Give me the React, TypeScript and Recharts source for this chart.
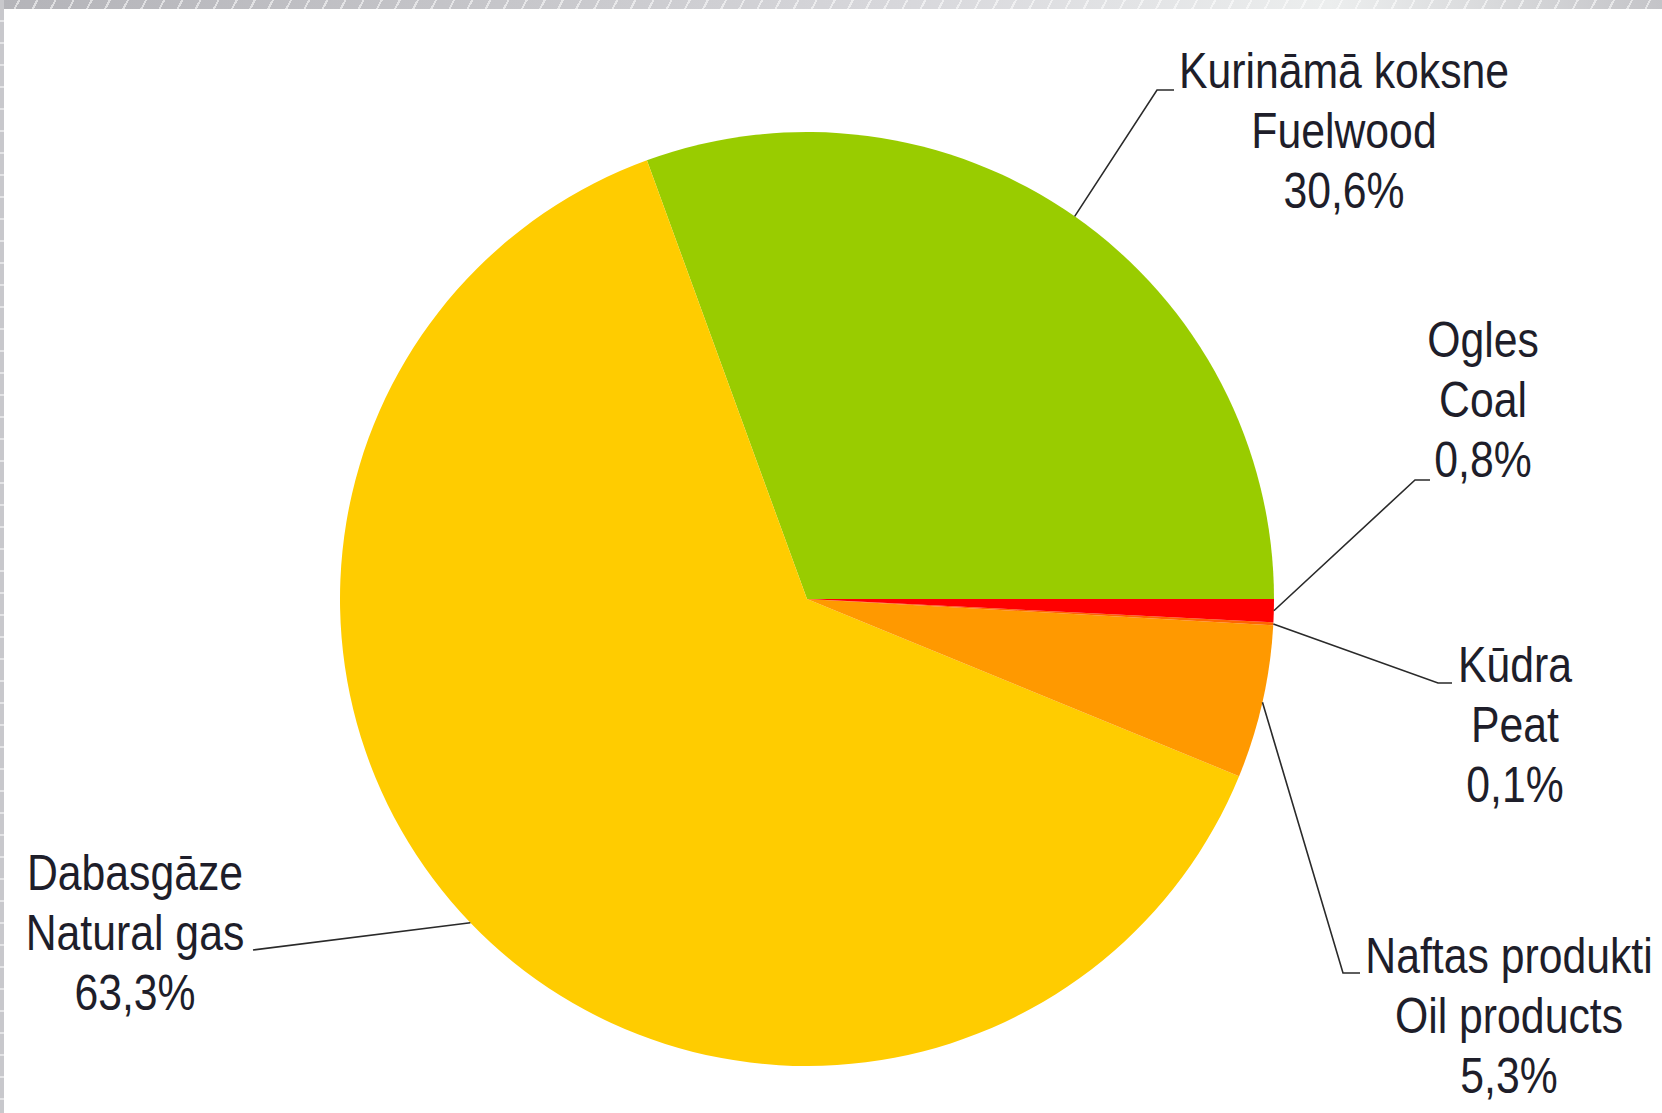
import React from 'react';
import { PieChart, Pie, Cell } from 'recharts';

// ---- data ----
const namesLv = ['Kurināmā koksne', 'Dabasgāze', 'Naftas produkti', 'Kūdra', 'Ogles'];
const namesEn = ['Fuelwood', 'Natural gas', 'Oil products', 'Peat', 'Coal'];
const shares = [30.6, 63.3, 5.3, 0.1, 0.8];
const sliceColors = ['#99cc00', '#ffcc00', '#ff9900', '#ff6600', '#ff0000'];

const data = shares.map((v, i) => ({ lv: namesLv[i], en: namesEn[i], value: v }));

// ---- label layout (offsets from pie centre) ----
const labelLayout = [
  { elbow: [350, -509], end: [367, -509], tx: 537, ty: -511 },
  { elbow: null, end: [-554, 351], tx: -672, ty: 291 },
  { elbow: [536, 374], end: [553, 374], tx: 702, ty: 374 },
  { elbow: [631, 84], end: [645, 84], tx: 708, ty: 83 },
  { elbow: [608, -119], end: [623, -119], tx: 676, ty: -242 },
];

const W = 1662;
const H = 1113;
const FONT = '"Liberation Sans", Arial, Helvetica, sans-serif';
const LINE_H = 60;
const RAD = Math.PI / 180;

const fmt = (v: number) => v.toFixed(1).replace('.', ',') + '%';

const renderLabel = (props: any) => {
  const { cx, cy, midAngle, outerRadius, index } = props;
  const lay = labelLayout[index];
  const d = data[index];
  const sx = cx + outerRadius * Math.cos(-midAngle * RAD);
  const sy = cy + outerRadius * Math.sin(-midAngle * RAD);
  const pts: number[][] = [[sx, sy]];
  if (lay.elbow) pts.push([cx + lay.elbow[0], cy + lay.elbow[1]]);
  pts.push([cx + lay.end[0], cy + lay.end[1]]);
  const tx = cx + lay.tx;
  const ty = cy + lay.ty;
  return (
    <g key={'lbl' + index}>
      <polyline
        points={pts.map((p) => p.join(',')).join(' ')}
        fill="none"
        stroke="#2a2a2a"
        strokeWidth={1.6}
      />
      <text
        transform={`translate(${tx},${ty}) scale(0.855,1)`}
        textAnchor="middle"
        fontFamily={FONT}
        fontSize={50}
        fill="#1e1e2a"
      >
        <tspan x={0} y={0}>{d.lv}</tspan>
        <tspan x={0} y={LINE_H}>{d.en}</tspan>
        <tspan x={0} y={LINE_H * 2}>{fmt(d.value)}</tspan>
      </text>
    </g>
  );
};

export default function App() {
  return (
    <div
      style={{
        position: 'absolute',
        left: 0,
        top: 0,
        width: W,
        height: H,
        overflow: 'hidden',
        background: '#ffffff',
      }}
    >
      {/* decorative grey frame, top band */}
      <div
        style={{
          position: 'absolute',
          left: 0,
          top: 0,
          width: W,
          height: 9,
          background:
            'repeating-linear-gradient(118deg, rgba(255,255,255,0.55) 0px, rgba(255,255,255,0.55) 2px, rgba(255,255,255,0) 2px, rgba(255,255,255,0) 16px), linear-gradient(90deg, #b4b4b9 0%, #c6c6ca 30%, #d8d8dc 55%, #eceeee 80%, #c4c4c8 100%)',
        }}
      />
      {/* left band */}
      <div
        style={{
          position: 'absolute',
          left: 0,
          top: 0,
          width: 4,
          height: H,
          background:
            'repeating-linear-gradient(180deg, #c8c8cc 0px, #c8c8cc 20px, #e4e4e6 20px, #e4e4e6 22px)',
        }}
      />
      <div style={{ position: 'absolute', left: 0, top: 0 }}>
        <PieChart width={W} height={H} margin={{ top: 0, right: 0, bottom: 0, left: 0 }}>
          <Pie
            data={data}
            dataKey="value"
            nameKey="en"
            cx={807}
            cy={599}
            outerRadius={467}
            innerRadius={0}
            startAngle={0}
            endAngle={360}
            stroke="none"
            label={renderLabel}
            labelLine={false}
            isAnimationActive={false}
          >
            {data.map((_, i) => (
              <Cell key={i} fill={sliceColors[i]} />
            ))}
          </Pie>
        </PieChart>
      </div>
    </div>
  );
}
